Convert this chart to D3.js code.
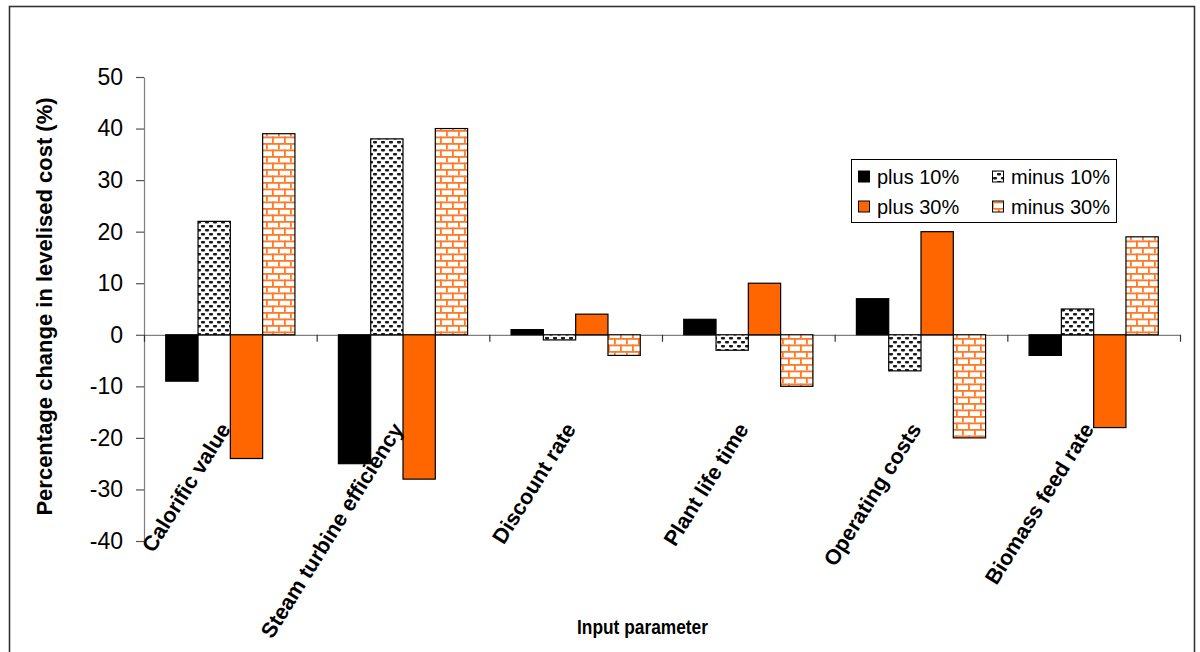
<!DOCTYPE html>
<html>
<head>
<meta charset="utf-8">
<script src="https://cdn.jsdelivr.net/npm/d3@7/dist/d3.min.js"></script>
<style>
  html, body { margin: 0; padding: 0; background: #fff; }
  svg { display: block; font-family: "Liberation Sans", Arial, sans-serif; }
</style>
</head>
<body>
<svg id="chart" width="1200" height="652"></svg>
<script>
// Sensitivity of levelised cost to each input parameter
const categories = [
  "Calorific value",
  "Steam turbine efficiency",
  "Discount rate",
  "Plant life time",
  "Operating costs",
  "Biomass feed rate"
];
const seriesNames = ["plus 10%", "minus 10%", "plus 30%", "minus 30%"];
const plus10  = [-9, -25,  1,   3,   7,  -4];
const minus10 = [22,  38, -1,  -3,  -7,   5];
const plus30  = [-24, -28, 4,  10,  20, -18];
const minus30 = [39,  40, -4, -10, -20,  19];
const yTicks = [-40, -30, -20, -10, 0, 10, 20, 30, 40, 50];

const seriesValues = [plus10, minus10, plus30, minus30];
const seriesFill = ["#000000", "url(#dots)", "#FF6600", "url(#bricks)"];

const svg = d3.select("#chart");

// fill patterns
const defs = svg.append("defs");
const dots = defs.append("pattern")
  .attr("id", "dots").attr("patternUnits", "userSpaceOnUse")
  .attr("width", 8).attr("height", 8);
dots.append("rect").attr("width", 8).attr("height", 8).attr("fill", "#fff");
const dotColor = "#1a1a1a";
dots.append("rect").attr("x", 1).attr("y", 1).attr("width", 4).attr("height", 2.4).attr("rx", 0.8).attr("fill", dotColor);
dots.append("rect").attr("x", 5).attr("y", 5).attr("width", 4).attr("height", 2.4).attr("rx", 0.8).attr("fill", dotColor);
dots.append("rect").attr("x", -3).attr("y", 5).attr("width", 4).attr("height", 2.4).attr("rx", 0.8).attr("fill", dotColor);

const bricks = defs.append("pattern")
  .attr("id", "bricks").attr("patternUnits", "userSpaceOnUse")
  .attr("width", 12).attr("height", 13);
bricks.append("rect").attr("width", 12).attr("height", 13).attr("fill", "#fff");
const bc = "#FF7A26";
bricks.append("rect").attr("x", 0).attr("y", 0).attr("width", 12).attr("height", 1.8).attr("fill", bc);
bricks.append("rect").attr("x", 0).attr("y", 6.5).attr("width", 12).attr("height", 1.8).attr("fill", bc);
bricks.append("rect").attr("x", 2).attr("y", 0).attr("width", 1.8).attr("height", 6.5).attr("fill", bc);
bricks.append("rect").attr("x", 8).attr("y", 6.5).attr("width", 1.8).attr("height", 6.5).attr("fill", bc);

// outer frame
svg.append("rect")
  .attr("x", 9.5).attr("y", 6.5).attr("width", 1185).attr("height", 700)
  .attr("fill", "none").attr("stroke", "#333").attr("stroke-width", 1.6);

// scales
const plotLeft = 144, plotRight = 1180, plotTop = 77, plotBottom = 541;
const x = d3.scaleBand().domain(categories).range([plotLeft, plotRight]).padding(0);
const xs = d3.scaleBand().domain(seriesNames).range([0, x.bandwidth()])
  .paddingInner(0).paddingOuter(0.673);
const y = d3.scaleLinear().domain([-40, 50]).range([plotBottom, plotTop]);

// y axis (plain hyphen for negative numbers)
const yAxis = svg.append("g")
  .attr("transform", `translate(${plotLeft},0)`)
  .call(d3.axisLeft(y).tickValues(yTicks).tickFormat(d => String(d))
    .tickSize(8).tickPadding(13).tickSizeOuter(0));
yAxis.select(".domain").attr("stroke", "#808080").attr("stroke-width", 1.2);
yAxis.selectAll(".tick line").attr("stroke", "#555").attr("stroke-width", 1.2);
yAxis.selectAll(".tick text")
  .attr("font-size", 23).attr("fill", "#000")
  .attr("font-family", "Liberation Sans, Arial, sans-serif");

// category boundary ticks along the zero line
const xb = d3.scaleLinear().domain([0, categories.length]).range([plotLeft, plotRight]);
const xAxis = svg.append("g")
  .attr("transform", `translate(0,${y(0)})`)
  .call(d3.axisBottom(xb).ticks(categories.length).tickSize(7).tickFormat("").tickSizeOuter(0));
xAxis.select(".domain").attr("stroke", "#808080").attr("stroke-width", 1.2);
xAxis.selectAll(".tick line").attr("stroke", "#333").attr("stroke-width", 1.2);

// bars
seriesNames.forEach((name, si) => {
  svg.append("g").selectAll("rect")
    .data(categories.map((c, i) => ({ c, v: seriesValues[si][i] })))
    .join("rect")
    .attr("x", d => x(d.c) + xs(name))
    .attr("width", xs.bandwidth())
    .attr("y", d => y(Math.max(0, d.v)))
    .attr("height", d => Math.abs(y(d.v) - y(0)))
    .attr("fill", seriesFill[si])
    .attr("stroke", "#000")
    .attr("stroke-width", 1.2);
});

// rotated category labels
svg.append("g").selectAll("text")
  .data(categories)
  .join("text")
  .attr("transform", d => `translate(${x(d) + x.bandwidth() / 2 + 1},429) rotate(-58)`)
  .attr("text-anchor", "end")
  .attr("font-size", 21.5)
  .attr("font-weight", "bold")
  .attr("fill", "#000")
  .text(d => d);

// axis titles
svg.append("text")
  .attr("transform", "translate(52,306.5) rotate(-90)")
  .attr("text-anchor", "middle")
  .attr("font-size", 22)
  .attr("font-weight", "bold")
  .text("Percentage change in levelised cost (%)");

svg.append("text")
  .attr("x", 577).attr("y", 634)
  .attr("font-size", 21)
  .attr("font-weight", "bold")
  .attr("textLength", 131)
  .attr("lengthAdjust", "spacingAndGlyphs")
  .text("Input parameter");

// legend
const legend = svg.append("g");
legend.append("rect")
  .attr("x", 851.5).attr("y", 159.5).attr("width", 265).attr("height", 63)
  .attr("fill", "#fff").attr("stroke", "#000").attr("stroke-width", 1);
const legendPos = [
  { sx: 858, ty: 176.5 },
  { sx: 992, ty: 176.5 },
  { sx: 858, ty: 206.5 },
  { sx: 992, ty: 206.5 }
];
seriesNames.forEach((name, si) => {
  const p = legendPos[si];
  legend.append("rect")
    .attr("x", p.sx + 0.5).attr("y", p.ty - 5.5).attr("width", 11).attr("height", 11)
    .attr("fill", seriesFill[si]).attr("stroke", "#000").attr("stroke-width", 1);
  legend.append("text")
    .attr("x", p.sx + 19).attr("y", p.ty + 7)
    .attr("font-size", 20)
    .attr("fill", "#000")
    .text(name);
});
</script>
</body>
</html>
